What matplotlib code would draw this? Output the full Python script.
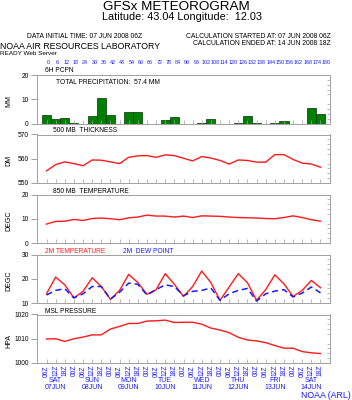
import matplotlib.pyplot as plt
from matplotlib.ticker import MultipleLocator
from matplotlib.transforms import blended_transform_factory

plt.rcParams['font.family'] = ['Liberation Sans', 'DejaVu Sans']

W, H = 352, 400

# forecast hours, every 6 h from 07 JUN 2008 06Z
hours = list(range(0, 181, 6))
time_labels = [["06Z", "12Z", "18Z", "00Z"][i % 4] for i in range(len(hours))]
day_labels = ["SAT\n07JUN", "SUN\n08JUN", "MON\n09JUN", "TUE\n10JUN",
              "WED\n11JUN", "THU\n12JUN", "FRI\n13JUN", "SAT\n14JUN"]
day_hours = [6, 30, 54, 78, 102, 126, 150, 174]

pcpn = [3.6, 1.8, 2.1, 0.1, 0, 3.2, 10.4, 3.6, 0, 4.7, 4.7, 0, 0, 1.6, 2.7, 0,
        0, 0.1, 1.9, 0, 0, 0.3, 3.0, 0.05, 0, 0.05, 1.1, 0, 0, 6.3, 4.0]
thick = [555.0, 557.6, 558.7, 558.0, 557.1, 559.5, 559.4, 558.7, 558.0, 560.6,
         561.2, 561.3, 560.6, 561.6, 561.3, 560.2, 559.1, 560.9, 560.3, 559.3,
         557.8, 559.5, 559.3, 558.6, 558.6, 561.7, 561.7, 559.7, 558.2, 557.8, 556.5]
t850 = [7.8, 8.9, 9.0, 9.7, 9.3, 10.1, 10.3, 10.0, 9.6, 10.4, 10.7, 11.5, 11.1,
        11.1, 10.7, 11.1, 10.5, 11.2, 11.1, 11.0, 10.7, 10.5, 10.4, 10.3, 10.1,
        10.0, 10.5, 11.2, 10.5, 9.6, 9.0]
t2m = [13.8, 20.7, 17.5, 12.1, 14.8, 20.4, 16.8, 11.5, 15.2, 21.8, 18.4, 13.6,
       15.5, 22.1, 17.7, 12.7, 16.8, 23.2, 18.4, 11.1, 16.6, 22.1, 18.4, 11.1,
       15.5, 21.6, 17.9, 12.7, 15.2, 19.3, 16.3]
dew = [13.3, 15.2, 15.9, 12.1, 13.8, 16.8, 16.8, 11.6, 14.4, 18.2, 17.7, 13.3,
       15.5, 17.5, 16.8, 13.0, 14.8, 15.2, 16.2, 11.1, 13.8, 15.2, 16.0, 10.8,
       13.8, 14.9, 15.5, 12.5, 14.1, 16.6, 14.2]
mslp = [1009.9, 1010.0, 1008.9, 1010.0, 1010.7, 1011.6, 1011.6, 1014.0, 1015.1,
        1016.3, 1016.3, 1017.3, 1017.4, 1017.7, 1016.7, 1016.8, 1016.8, 1016.0,
        1014.4, 1013.6, 1012.5, 1010.6, 1009.5, 1009.1, 1008.4, 1007.2, 1006.1,
        1006.1, 1004.7, 1004.2, 1003.9]

RED = '#ff1a1a'
BLUE = '#1a1aff'
FRAME = '#a0a0a0'

fig = plt.figure(figsize=(3.52, 4.0), dpi=100)


def ftext(x, y, s, **kw):
    # x, y in pixels from top-left
    kw.setdefault('fontsize', 4.8)
    kw.setdefault('va', 'center')
    fig.text(x / W, 1 - y / H, s, **kw)


def panel(top, ylim, yticks, ylabel):
    ax = fig.add_axes([37 / W, 1 - (top + 48.5) / H, 293 / W, 48.5 / H])
    ax.set_xlim(-6.25, 186.25)
    ax.set_ylim(*ylim)
    for s in ax.spines.values():
        s.set_color(FRAME)
        s.set_linewidth(0.7)
    ax.set_yticks(yticks)
    ax.yaxis.set_minor_locator(MultipleLocator((ylim[1] - ylim[0]) / 10))
    ax.tick_params(axis='y', which='major', direction='out', length=4,
                   width=0.7, color=FRAME, labelsize=4.8, pad=2)
    ax.tick_params(axis='y', which='minor', left=False, right=True,
                   direction='in', length=2, width=0.5, color=FRAME)
    ax.set_xticks(hours)
    ax.tick_params(axis='x', direction='in', length=3, width=0.5,
                   color=FRAME, labelbottom=False)
    ftext(9, top + 26, ylabel, rotation=90, ha='center', fontsize=5)
    return ax


# header
ftext(176, 7, "GFSx METEOROGRAM", ha='center', fontsize=9.7)
ftext(182, 17, "Latitude: 43.04 Longitude:  12.03", ha='center', fontsize=7.8)
ftext(85, 36.8, "DATA INITIAL TIME: 07 JUN 2008 06Z", ha='center', fontsize=4.9)
ftext(331, 36.8, "CALCULATION STARTED AT: 07 JUN 2008 06Z", ha='right', fontsize=4.9)
ftext(331, 43.8, "CALCULATION ENDED AT: 14 JUN 2008 18Z", ha='right', fontsize=4.9)
ftext(0, 46.5, "NOAA AIR RESOURCES LABORATORY", ha='left', fontsize=6.3)
ftext(0, 53.2, "READY Web Server", ha='left', fontsize=4.6)

# precipitation
ax1 = panel(75, (0, 20), [0, 10, 20], "MM")
ax1.bar(hours, pcpn, width=6, color='#008000', edgecolor='#003300', linewidth=0.5)
tr = blended_transform_factory(ax1.transData, fig.transFigure)
for h in hours:
    ax1.text(h * 1.016 + 1, 1 - 62 / H, str(h), transform=tr, ha='center',
             va='center', fontsize=3.9, color=BLUE)
ftext(45, 71, "6H PCPN", ha='left')
ftext(56, 83, "TOTAL PRECIPITATION:  57.4 MM", ha='left')

# 500 mb thickness
ax2 = panel(134.5, (550, 570), [550, 560, 570], "DM")
ax2.plot(hours, thick, color=RED, lw=1.0)
ftext(52.7, 131, "500 MB  THICKNESS", ha='left')

# 850 mb temperature
ax3 = panel(194.5, (0, 20), [0, 10, 20], "DEGC")
ax3.plot(hours, t850, color=RED, lw=1.0)
ftext(52.7, 191.3, "850 MB  TEMPERATURE", ha='left')

# 2 m temperature and dew point
ax4 = panel(254.5, (10, 30), [10, 20, 30], "DEGC")
ax4.plot(hours, t2m, color=RED, lw=1.0)
ax4.plot(hours, dew, color=BLUE, lw=1.1, dashes=(4, 2.5))
ftext(45, 251.7, "2M TEMPERATURE", ha='left', color=RED)
ftext(123.3, 251.7, "2M  DEW POINT", ha='left', color=BLUE)

# msl pressure
ax5 = panel(314.5, (1000, 1020), [1000, 1010, 1020], "HPA")
ax5.plot(hours, mslp, color=RED, lw=1.0)
ftext(45, 311.7, "MSL PRESSURE", ha='left')
ax5.set_xticklabels(time_labels, rotation=90, color=BLUE, fontsize=4.8)
ax5.tick_params(axis='x', labelbottom=True, pad=1.5)
tr5 = blended_transform_factory(ax5.transData, fig.transFigure)
for h, lab in zip(day_hours, day_labels):
    ax5.text(h, 1 - 384 / H, lab, transform=tr5, ha='center', va='center',
             fontsize=5, color=BLUE, linespacing=1.0)
ftext(351, 395, "NOAA (ARL)", ha='right', fontsize=6.3, color=BLUE)

plt.savefig("out.png", dpi=100)
